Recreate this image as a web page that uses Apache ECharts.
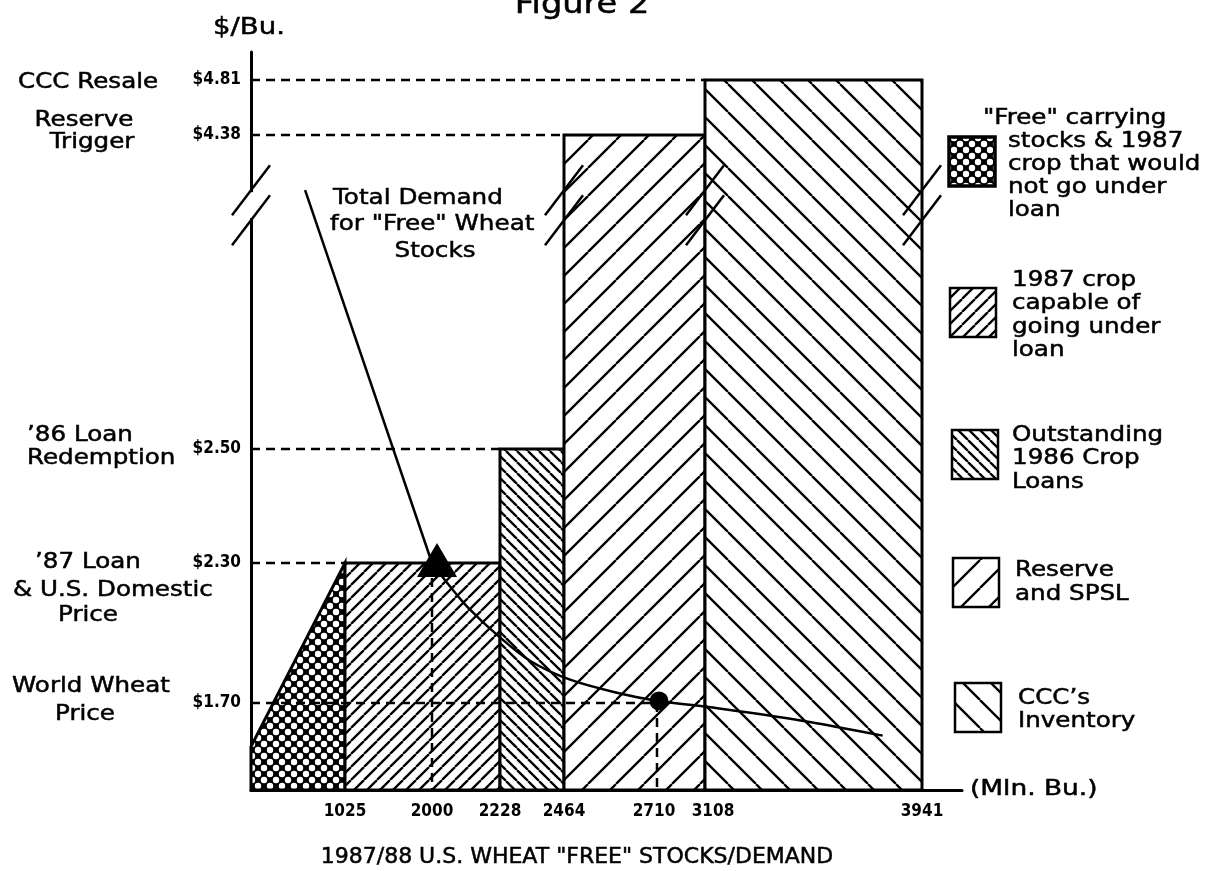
<!DOCTYPE html>
<html>
<head>
<meta charset="utf-8">
<title>Figure 2</title>
<script src="https://cdn.jsdelivr.net/npm/echarts@6.0.0/dist/echarts.min.js"></script>
<style>
html, body { margin: 0; padding: 0; background: #fff; }
#main { width: 1214px; height: 871px; }
</style>
</head>
<body>
<div id="main"></div>
<script>
// tick values (Mln. Bu. / $ per bushel)
var xTicks = [1025, 2000, 2228, 2464, 2710, 3108, 3941];
var priceTicks = [4.81, 4.38, 2.50, 2.30, 1.70];

// stock blocks: from / to (Mln. Bu.), price at left and right top
var blockFrom = [0, 1025, 2228, 2464, 3108];
var blockTo = [1025, 2228, 2464, 3108, 3941];
var blockTopLeft = [1.50, 2.30, 2.50, 4.38, 4.81];
var blockTopRight = [2.30, 2.30, 2.50, 4.38, 4.81];

// total demand for "free" wheat stocks
var demandLine = [[590, 4.05], [2000, 2.30]];
var demandCurve = [[2000, 2.30], [2060, 2.20], [2120, 2.11], [2220, 1.99], [2340, 1.88],
    [2480, 1.80], [2615, 1.74], [2710, 1.71], [3130, 1.68], [3475, 1.62], [3790, 1.55]];

// dashed guides
var guidePrice = [4.81, 4.38, 2.50, 2.30, 1.70];
var guideUntil = [3108, 2464, 2228, 1025, 2710];
var dropX = [2000, 2710];
var dropPrice = [2.30, 1.70];

// axis break marks
var breakX = [0, 2464, 3108, 3941];
var breakPrice = 3.96;

// the figure is not drawn to scale: piecewise axis mapping
var xKnots = [0, 1025, 2000, 2228, 2464, 2710, 3108, 3941, 4200];
var xSpots = [0, 94, 181, 249, 313, 406, 454, 671, 711];
var yKnots = [1.30, 1.70, 2.30, 2.50, 4.38, 4.81, 5.00];
var ySpots = [0, 87, 227, 341, 655, 710, 738];

function piece(v, knots, spots) {
    for (var i = 1; i < knots.length; i++) {
        if (v <= knots[i] || i === knots.length - 1) {
            var t = (v - knots[i - 1]) / (knots[i] - knots[i - 1]);
            return spots[i - 1] + t * (spots[i] - spots[i - 1]);
        }
    }
}
function tx(v) { return piece(v, xKnots, xSpots); }
function ty(v) { return piece(v, yKnots, ySpots); }

// fill patterns
function hatch(step, back, lw) {
    var c = document.createElement('canvas');
    c.width = step; c.height = step;
    var g = c.getContext('2d');
    g.fillStyle = '#fff';
    g.fillRect(0, 0, step, step);
    g.strokeStyle = '#000';
    g.lineWidth = lw;
    g.beginPath();
    for (var k = -1; k <= 1; k++) {
        if (back) { g.moveTo(k * step, 0); g.lineTo(k * step + step, step); }
        else { g.moveTo(k * step, step); g.lineTo(k * step + step, 0); }
    }
    g.stroke();
    return { image: c, repeat: 'repeat' };
}
function dots(step, r) {
    var c = document.createElement('canvas');
    c.width = step; c.height = step;
    var g = c.getContext('2d');
    g.fillStyle = '#000';
    g.fillRect(0, 0, step, step);
    g.fillStyle = '#fff';
    [[0, 0], [step, 0], [0, step], [step, step], [step / 2, step / 2]].forEach(function (p) {
        g.beginPath();
        g.arc(p[0], p[1], r, 0, Math.PI * 2);
        g.fill();
    });
    return { image: c, repeat: 'repeat' };
}
var fills = [dots(12, 3.2), hatch(13, false, 2.3), hatch(11, true, 2.3), hatch(28, false, 2.3), hatch(28, true, 2.3)];

var FONT = '"DejaVu Sans"';
var TICKFONT = '"DejaVu Sans Condensed", "Liberation Sans Narrow", "DejaVu Sans"';
function txt(s, x, y, size, align, sx) {
    return {
        type: 'text', x: x, y: y, scaleX: sx || 1.17, z: 20,
        style: {
            text: s, fill: '#000', stroke: '#000', lineWidth: 0.5,
            font: size + 'px ' + FONT,
            textAlign: align, align: align,
            textVerticalAlign: 'middle', verticalAlign: 'middle'
        }
    };
}

var graphics = [
    txt('Figure 2', 582, 6, 28, 'center', 1.2),
    txt('$/Bu.', 249, 28, 23, 'center', 1.2),
    txt('CCC Resale', 18, 83, 21, 'left'),
    txt('Reserve', 84, 121, 21, 'center'),
    txt('Trigger', 92, 143, 21, 'center'),
    txt('\u201986 Loan', 27, 436, 21, 'left'),
    txt('Redemption', 27, 459, 21, 'left'),
    txt('\u201987 Loan', 35, 563, 21, 'left'),
    txt('& U.S. Domestic', 13, 591, 21, 'left'),
    txt('Price', 58, 616, 21, 'left'),
    txt('World Wheat', 12, 687, 21, 'left'),
    txt('Price', 55, 715, 21, 'left'),
    txt('Total Demand', 333, 198, 22, 'left', 1.12),
    txt('for "Free" Wheat', 330, 224, 22, 'left', 1.12),
    txt('Stocks', 435, 251, 22, 'center', 1.12),
    txt('(Mln. Bu.)', 970, 789, 22, 'left', 1.2),
    txt('1987/88 U.S. WHEAT "FREE" STOCKS/DEMAND', 577, 857, 22, 'center', 1.0)
];

// legend boxes and their text
var legendBox = [[949, 137], [950, 288], [952, 430], [953, 558], [955, 683]];
var legendText = [
    [['"Free" carrying', 983, 119], ['stocks & 1987', 1008, 142], ['crop that would', 1008, 165], ['not go under', 1008, 188], ['loan', 1008, 211]],
    [['1987 crop', 1012, 281], ['capable of', 1012, 304], ['going under', 1012, 328], ['loan', 1012, 351]],
    [['Outstanding', 1012, 436], ['1986 Crop', 1012, 459], ['Loans', 1012, 483]],
    [['Reserve', 1015, 571], ['and SPSL', 1015, 595]],
    [['CCC\u2019s', 1018, 699], ['Inventory', 1018, 722]]
];
legendBox.forEach(function (b, i) {
    graphics.push({
        type: 'rect', z: 20,
        shape: { x: b[0], y: b[1], width: 46, height: 49 },
        style: { fill: fills[i], stroke: '#000', lineWidth: i === 0 ? 3.5 : 2.5 }
    });
    legendText[i].forEach(function (t) {
        graphics.push(txt(t[0], t[1], t[2], 21, 'left'));
    });
});

var myChart = echarts.init(document.getElementById('main'));

var option = {
    animation: false,
    backgroundColor: '#fff',
    grid: { left: 251, right: 252, top: 52, bottom: 81, outerBoundsMode: 'none' },
    xAxis: {
        type: 'value', min: 0, max: xSpots[xSpots.length - 1],
        splitLine: { show: false },
        axisTick: { show: false },
        axisLine: { onZero: false, lineStyle: { color: '#000', width: 3 } },
        axisLabel: {
            customValues: xTicks.map(tx),
            margin: 13,
            color: '#000',
            fontFamily: TICKFONT, fontWeight: 'bold', fontSize: 17,
            rich: {
                l: { fontFamily: TICKFONT, fontWeight: 'bold', fontSize: 17, color: '#000', padding: [0, 6, 0, 0] },
                r: { fontFamily: TICKFONT, fontWeight: 'bold', fontSize: 17, color: '#000', padding: [0, 0, 0, 16] }
            },
            formatter: function (v) {
                for (var i = 0; i < xTicks.length; i++) {
                    if (Math.abs(tx(xTicks[i]) - v) < 0.01) {
                        if (xTicks[i] === 2710) return '{l|' + xTicks[i] + '}';
                        if (xTicks[i] === 3108) return '{r|' + xTicks[i] + '}';
                        return String(xTicks[i]);
                    }
                }
                return '';
            }
        }
    },
    yAxis: {
        type: 'value', min: 0, max: ySpots[ySpots.length - 1],
        splitLine: { show: false },
        axisTick: { show: false },
        axisLine: { onZero: false, lineStyle: { color: '#000', width: 3 } },
        axisLabel: {
            customValues: priceTicks.map(ty),
            margin: 10,
            color: '#000',
            fontFamily: TICKFONT, fontWeight: 'bold', fontSize: 17,
            formatter: function (v) {
                for (var i = 0; i < priceTicks.length; i++) {
                    if (Math.abs(ty(priceTicks[i]) - v) < 0.01) return '$' + priceTicks[i].toFixed(2);
                }
                return '';
            }
        }
    },
    graphic: graphics,
    series: [
        {
            name: 'blocks', type: 'custom', z: 2, silent: true,
            data: blockFrom.map(function (f, i) {
                return [tx(f), tx(blockTo[i]), ty(blockTopLeft[i]), ty(blockTopRight[i]), i];
            }),
            renderItem: function (params, api) {
                var x0 = api.value(0), x1 = api.value(1);
                var pts = [api.coord([x0, 0]), api.coord([x0, api.value(2)]),
                    api.coord([x1, api.value(3)]), api.coord([x1, 0])];
                return {
                    type: 'polygon', shape: { points: pts },
                    style: { fill: fills[api.value(4)], stroke: '#000', lineWidth: 3, lineJoin: 'miter' }
                };
            }
        },
        {
            name: 'guides', type: 'custom', z: 3, silent: true,
            data: guidePrice.map(function (p, i) { return [0, ty(p), tx(guideUntil[i]), ty(p)]; })
                .concat(dropX.map(function (x, i) { return [tx(x), ty(dropPrice[i]), tx(x), 0]; })),
            renderItem: function (params, api) {
                var a = api.coord([api.value(0), api.value(1)]);
                var b = api.coord([api.value(2), api.value(3)]);
                return {
                    type: 'line', shape: { x1: a[0], y1: a[1], x2: b[0], y2: b[1] },
                    style: { stroke: '#000', lineWidth: 2.5, lineDash: [9, 6] }
                };
            }
        },
        {
            name: 'demand', type: 'line', z: 4, symbol: 'none', silent: true,
            data: demandLine.map(function (p) { return [tx(p[0]), ty(p[1])]; }),
            lineStyle: { color: '#000', width: 2.5 }
        },
        {
            name: 'demand curve', type: 'line', z: 4, symbol: 'none', smooth: 0.35, silent: true,
            data: demandCurve.map(function (p) { return [tx(p[0]), ty(p[1])]; }),
            lineStyle: { color: '#000', width: 2.5 }
        },
        {
            name: 'loan point', type: 'scatter', z: 5, silent: true,
            symbol: 'triangle', symbolSize: [40, 34], symbolOffset: [5, -3],
            itemStyle: { color: '#000', opacity: 1 },
            data: [[tx(2000), ty(2.30)]]
        },
        {
            name: 'world point', type: 'scatter', z: 5, silent: true,
            symbol: 'circle', symbolSize: 19, symbolOffset: [2, -2],
            itemStyle: { color: '#000', opacity: 1 },
            data: [[tx(2710), ty(1.70)]]
        },
        {
            name: 'breaks', type: 'custom', z: 10, silent: true,
            data: breakX.map(function (x) { return [tx(x), ty(breakPrice)]; }),
            renderItem: function (params, api) {
                var p = api.coord([api.value(0), api.value(1)]);
                var kids = [];
                if (params.dataIndex === 0) {
                    kids.push({ type: 'rect', shape: { x: p[0] - 4, y: p[1] - 13, width: 8, height: 26 }, style: { fill: '#fff' } });
                }
                [-15, 15].forEach(function (d) {
                    kids.push({
                        type: 'line',
                        shape: { x1: p[0] - 19, y1: p[1] + d + 25, x2: p[0] + 19, y2: p[1] + d - 25 },
                        style: { stroke: '#000', lineWidth: 2.5 }
                    });
                });
                return { type: 'group', children: kids };
            }
        }
    ]
};

myChart.setOption(option);
</script>
</body>
</html>
